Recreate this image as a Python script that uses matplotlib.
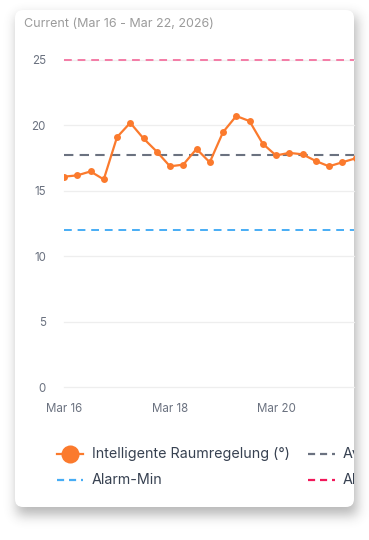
import numpy as np
import pandas as pd
import matplotlib
matplotlib.use("Agg")
import matplotlib.pyplot as plt
import matplotlib.dates as mdates
from matplotlib.patches import FancyBboxPatch
from matplotlib.lines import Line2D

plt.rcParams['font.family'] = ['Inter', 'DejaVu Sans']

# ---------------- data ----------------
title = "Current (Mar 16 - Mar 22, 2026)"
series_label = "Intelligente Raumregelung (°)"
avg_label = "Average"
min_label = "Alarm-Min"
max_label = "Alarm-Max"
start = "2026-03-16"
values = [16.08, 16.18, 16.48, 15.87, 19.10, 20.20, 19.00, 18.00, 16.87, 17.00,
          18.20, 17.18, 19.48, 20.72, 20.33, 18.60, 17.70, 17.90, 17.79, 17.28,
          16.87, 17.18, 17.48]
times = pd.date_range(start, periods=len(values), freq="6h")
avg_value = 17.77
alarm_min = 12
alarm_max = 25
y_ticks = [0, 5, 10, 15, 20, 25]
x_tick_dates = ["2026-03-16", "2026-03-18", "2026-03-20"]
x_tick_labels = ["Mar 16", "Mar 18", "Mar 20"]

# ---------------- styles ----------------
W, H = 369, 540
DPI = 100
ORANGE = "#fb7a2d"
GRAY = "#6b7280"
BLUE = "#47adf5"
PINK = "#f47ba6"
RED = "#f2185a"
TICK_C = "#6b7280"

fig = plt.figure(figsize=(W / DPI, H / DPI), dpi=DPI)
fig.patch.set_facecolor("white")

def fx(x):
    return x / W

def fy(y):
    return 1 - y / H

# card geometry (pixels)
cx0, cy0, cx1, cy1 = 15, 10, 354, 507
rad = 8

# shadow via blurred mask
yy, xx = np.mgrid[0:H, 0:W]
sx0, sy0, sx1, sy1 = cx0 + 2, cy0 + 6, cx1 + 2, cy1 + 7
mask = ((xx >= sx0) & (xx <= sx1) & (yy >= sy0) & (yy <= sy1)).astype(float)
sigma = 6.0
k = np.arange(-20, 21)
kern = np.exp(-k ** 2 / (2 * sigma ** 2))
kern /= kern.sum()
blur = np.apply_along_axis(lambda r: np.convolve(r, kern, mode="same"), 1, mask)
blur = np.apply_along_axis(lambda c: np.convolve(c, kern, mode="same"), 0, blur)
alpha = np.clip(blur * 0.38, 0, 1)
img = np.zeros((H, W, 4))
img[..., :3] = 0.25
img[..., 3] = alpha
fig.figimage(img, xo=0, yo=0, origin="upper", zorder=0)

card = FancyBboxPatch((fx(cx0 + rad), fy(cy1 - rad)),
                      fx(cx1 - cx0 - 2 * rad), (cy1 - cy0 - 2 * rad) / H,
                      boxstyle=f"round,pad={rad / W}",
                      transform=fig.transFigure, facecolor="white",
                      edgecolor="none", zorder=1, mutation_aspect=W / H)
fig.patches.append(card)

# title
fig.text(fx(24), fy(24), title, fontsize=9.0, color="#9b9b9b",
         ha="left", va="center", zorder=3)

# axes: x from Mar16 (px 64) at 53 px/day, y 0 at px 387, 13.08 px/unit
px_day = 53.0
px_unit = 13.08
ax_left, ax_right = 64, 354
ymax = 26
ax_top = 387 - ymax * px_unit
ax_bottom = 387
ax = fig.add_axes([fx(ax_left), fy(ax_bottom), (ax_right - ax_left) / W,
                   (ax_bottom - ax_top) / H], zorder=2)
ax.patch.set_alpha(0)
x0 = mdates.date2num(pd.Timestamp(start))
ax.set_xlim(x0, x0 + (ax_right - ax_left) / px_day)
ax.set_ylim(0, ymax)
for s in ax.spines.values():
    s.set_visible(False)
ax.set_yticks(y_ticks)
ax.set_yticklabels([str(t) for t in y_ticks])
ax.set_xticks([mdates.date2num(pd.Timestamp(d)) for d in x_tick_dates])
ax.set_xticklabels(x_tick_labels)
ax.tick_params(axis="y", length=0, pad=13, labelsize=8.3, labelcolor=TICK_C)
ax.tick_params(axis="x", length=0, pad=11.5, labelsize=8.3, labelcolor=TICK_C)
for t in y_ticks:
    ax.axhline(t, color="#eeeeee", lw=0.9, zorder=1, clip_on=False)

ax.axhline(alarm_max, color=PINK, lw=1.4, dashes=(4, 3), zorder=3, clip_on=False)
ax.axhline(alarm_min, color=BLUE, lw=1.4, dashes=(4, 3), zorder=3)
ax.axhline(avg_value, color=GRAY, lw=1.5, dashes=(4.5, 3), zorder=3)
ax.plot(times, values, color=ORANGE, lw=1.6, marker="o", markersize=5,
        markeredgewidth=0, zorder=4)

# manual legend, clipped at the card's right edge like the reference

def leg_line(x0p, x1p, yp, color, dashed, marker=False):
    ln = Line2D([fx(x0p), fx(x1p)], [fy(yp), fy(yp)], transform=fig.transFigure,
                color=color, lw=1.6, zorder=3)
    if dashed:
        ln.set_dashes((3.2, 2.2))
    fig.lines.append(ln)
    if marker:
        mk = Line2D([fx((x0p + x1p) / 2)], [fy(yp)], transform=fig.transFigure,
                    color=color, marker="o", markersize=13, markeredgewidth=0,
                    linestyle="none", zorder=3)
        fig.lines.append(mk)

def leg_text(xp, yp, s):
    t = fig.text(fx(xp), fy(yp), s, fontsize=10.3, color="#374151",
                 ha="left", va="center", zorder=3)
    t.set_clip_on(True)
    t.set_clip_box(matplotlib.transforms.Bbox.from_extents(0, 0, cx1, H))
    return t

leg_line(57, 83, 454, ORANGE, False, marker=True)
leg_text(92, 454, series_label)
leg_line(57, 83, 480, BLUE, True)
leg_text(92, 480, min_label)
leg_line(308, 335, 454, GRAY, True)
leg_text(343, 454, avg_label)
leg_line(308, 335, 480, RED, True)
leg_text(343, 480, max_label)

fig.savefig("out.png", dpi=DPI)
